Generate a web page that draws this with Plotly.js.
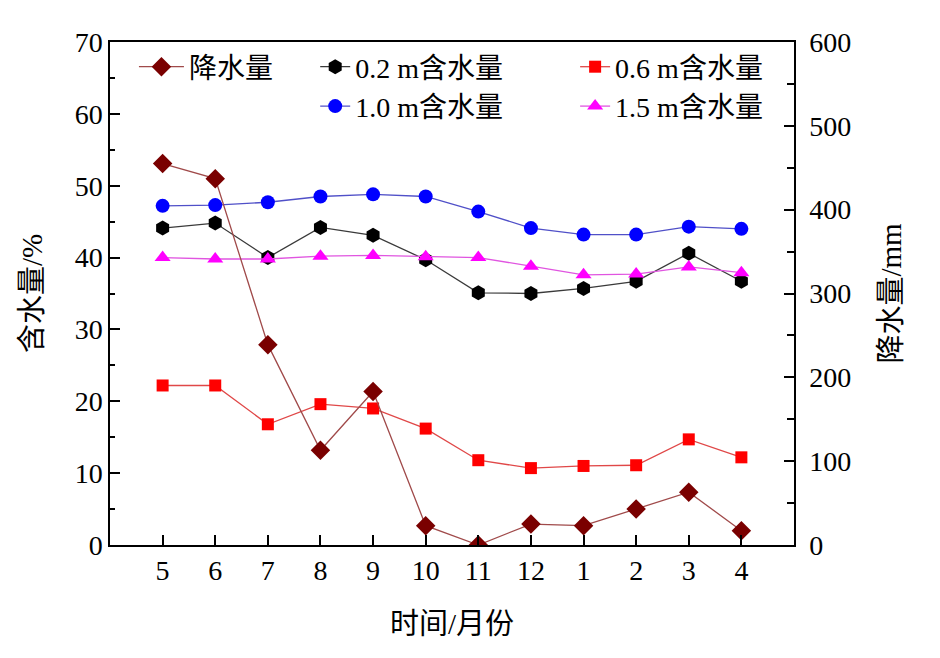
<!DOCTYPE html>
<html>
<head>
<meta charset="utf-8">
<script src="https://cdn.plot.ly/plotly-3.0.1.min.js"></script>
<style>
  body { margin: 0; background: #fff; }
  #grafico { width: 940px; height: 658px; }
</style>
</head>
<body>
<div id="grafico"></div>
<script>
// datos
var meses = ["5", "6", "7", "8", "9", "10", "11", "12", "1", "2", "3", "4"];
var lluvia = [455, 437, 239, 113, 183, 23, 0, 25, 23, 43, 63, 17];
var agua02 = [44.1, 44.8, 40.0, 44.2, 43.1, 39.7, 35.1, 35.0, 35.7, 36.7, 40.6, 36.7];
var agua06 = [22.2, 22.2, 16.8, 19.6, 19.0, 16.2, 11.8, 10.7, 11.0, 11.1, 14.7, 12.2];
var agua10 = [47.2, 47.3, 47.7, 48.5, 48.8, 48.5, 46.4, 44.1, 43.2, 43.2, 44.3, 44.0];
var agua15 = [40.0, 39.8, 39.8, 40.2, 40.3, 40.1, 40.0, 38.8, 37.6, 37.7, 38.7, 37.9];

var fuente = "Liberation Serif, Noto Sans CJK SC, serif";

var trace1 = {
  x: meses, y: lluvia, yaxis: "y2", type: "scatter", mode: "lines+markers",
  name: "降水量", legend: "legend",
  line: { color: "#a04a4a", width: 1.3 },
  marker: { symbol: "diamond", size: 15, color: "#7a0000" }
};
var trace2 = {
  x: meses, y: agua02, type: "scatter", mode: "lines+markers",
  name: "0.2 m含水量", legend: "legend2",
  line: { color: "#3a3a3a", width: 1.3 },
  marker: { symbol: "hexagon", size: 15, color: "#000000" }
};
var trace4 = {
  x: meses, y: agua10, type: "scatter", mode: "lines+markers",
  name: "1.0 m含水量", legend: "legend2",
  line: { color: "#5050c8", width: 1.3 },
  marker: { symbol: "circle", size: 14, color: "#0000ff" }
};
var trace3 = {
  x: meses, y: agua06, type: "scatter", mode: "lines+markers",
  name: "0.6 m含水量", legend: "legend3",
  line: { color: "#e04848", width: 1.3 },
  marker: { symbol: "square", size: 12, color: "#ff0000" }
};
var trace5 = {
  x: meses, y: agua15, type: "scatter", mode: "lines+markers",
  name: "1.5 m含水量", legend: "legend3",
  line: { color: "#e055e0", width: 1.3 },
  marker: { symbol: "triangle-up", size: 14, color: "#ff00ff" }
};

var data = [trace1, trace2, trace4, trace3, trace5];

var leyenda = {
  orientation: "v", xanchor: "left", yanchor: "top",
  bgcolor: "rgba(0,0,0,0)", borderwidth: 0,
  font: { family: fuente, size: 28, color: "#000" },
  tracegroupgap: 0
};

var layout = {
  width: 940, height: 658,
  margin: { l: 110, r: 146, t: 42, b: 113 },
  paper_bgcolor: "#fff", plot_bgcolor: "#fff",
  font: { family: fuente, size: 28, color: "#000" },
  showlegend: true,
  legend: Object.assign({}, leyenda, { x: 0.035, y: 1.0, itemwidth: 45 }),
  legend2: Object.assign({}, leyenda, { x: 0.3, y: 1.0 }),
  legend3: Object.assign({}, leyenda, { x: 0.68, y: 1.0 }),
  xaxis: {
    type: "category", range: [-1, 12],
    showgrid: false, zeroline: false,
    showline: true, linecolor: "#000", linewidth: 1.5, mirror: true,
    ticks: "inside", ticklen: 10, tickwidth: 1.5, tickcolor: "#000",
    tickfont: { family: fuente, size: 28 },
    title: { text: "时间/月份", font: { family: fuente, size: 29 }, standoff: 28 }
  },
  yaxis: {
    range: [0, 70], dtick: 10,
    showgrid: false, zeroline: false,
    showline: true, linecolor: "#000", linewidth: 1.5,
    ticks: "inside", ticklen: 10, tickwidth: 1.5, tickcolor: "#000",
    minor: { dtick: 5, ticks: "inside", ticklen: 5, tickwidth: 1.5, tickcolor: "#000" },
    tickfont: { family: fuente, size: 28 },
    title: { text: "含水量/%", font: { family: fuente, size: 29 }, standoff: 24 }
  },
  yaxis2: {
    overlaying: "y", side: "right", range: [0, 600], dtick: 100,
    showgrid: false, zeroline: false,
    showline: true, linecolor: "#000", linewidth: 1.5,
    ticks: "inside", ticklen: 10, tickwidth: 1.5, tickcolor: "#000",
    minor: { dtick: 50, ticks: "inside", ticklen: 7, tickwidth: 1.5, tickcolor: "#000" },
    tickfont: { family: fuente, size: 28 },
    ticklabelstandoff: 8,
    title: { text: "降水量/mm", font: { family: fuente, size: 29 }, standoff: 30 }
  }
};

Plotly.newPlot("grafico", data, layout, { displayModeBar: false });
</script>
</body>
</html>
